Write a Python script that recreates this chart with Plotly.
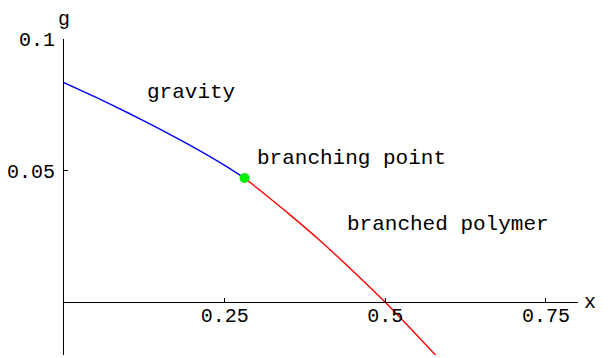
import plotly.graph_objects as go

# curve samples
gravity_x = [0.0, 0.05, 0.10, 0.15, 0.20, 0.25, 0.281]
gravity_g = [0.0834, 0.0778, 0.0719, 0.0657, 0.0591, 0.0520, 0.0472]

polymer_x = [0.281, 0.30, 0.35, 0.40, 0.45, 0.50, 0.55, 0.585]
polymer_g = [0.0472, 0.0435, 0.0336, 0.0231, 0.0118, 0.0000, -0.0127, -0.0218]

branch_x = [0.281]
branch_g = [0.0472]

x_ticks = [0.25, 0.5, 0.75]
x_ticklabels = ["0.25", "0.5", "0.75"]
g_ticks = [0.05, 0.1]
g_ticklabels = ["0.05", "0.1"]

FONT = "Liberation Mono"
SIZE = 21
TICK_SIZE = 20

fig = go.Figure()
fig.add_trace(go.Scatter(x=gravity_x, y=gravity_g, mode="lines",
                         line=dict(color="#0000ff", width=1.4, shape="spline", smoothing=0.6),
                         showlegend=False))
fig.add_trace(go.Scatter(x=polymer_x, y=polymer_g, mode="lines",
                         line=dict(color="#ff0000", width=1.4, shape="spline", smoothing=0.6),
                         showlegend=False))
fig.add_trace(go.Scatter(x=branch_x, y=branch_g, mode="markers",
                         marker=dict(color="#00ee00", size=10),
                         showlegend=False))

labels = [
    ("gravity", 0.131, 0.0798),
    ("branching point", 0.302, 0.0547),
    ("branched polymer", 0.442, 0.0296),
]
for text, lx, ly in labels:
    fig.add_annotation(x=lx, y=ly, text=text, showarrow=False, xanchor="left",
                       yanchor="middle", xshift=-3,
                       font=dict(family=FONT, size=SIZE, color="black"))

fig.add_annotation(x=0, y=1, xref="paper", yref="paper", text="g", showarrow=False,
                   yanchor="bottom", xanchor="center", yshift=6,
                   font=dict(family=FONT, size=TICK_SIZE, color="black"))
fig.add_annotation(x=1, y=0, xref="paper", yref="y", text="x", showarrow=False,
                   xanchor="left", yanchor="middle", xshift=4,
                   font=dict(family=FONT, size=TICK_SIZE, color="black"))

fig.update_xaxes(range=[0, 0.8], tickvals=x_ticks, ticktext=x_ticklabels,
                 ticks="inside", ticklen=4, tickcolor="black", showline=True,
                 linecolor="black", linewidth=1, showgrid=False, zeroline=False,
                 anchor="free", position=1 / 6, ticklabelstandoff=-5, automargin=False,
                 tickfont=dict(family=FONT, size=TICK_SIZE, color="black"))
fig.update_yaxes(range=[-0.02, 0.1], tickvals=g_ticks, ticktext=g_ticklabels,
                 ticks="inside", ticklen=4, tickcolor="black", showline=True,
                 linecolor="black", linewidth=1, showgrid=False, zeroline=False,
                 automargin=False, ticklabelstandoff=4,
                 tickfont=dict(family=FONT, size=TICK_SIZE, color="black"))
# page body has an 8px margin: keep the figure inside the window and shift it up/left
fig.update_layout(width=600, height=350, plot_bgcolor="white", paper_bgcolor="white",
                  margin=dict(l=56, r=30, t=31, b=3))

fig.write_html("out.html")
